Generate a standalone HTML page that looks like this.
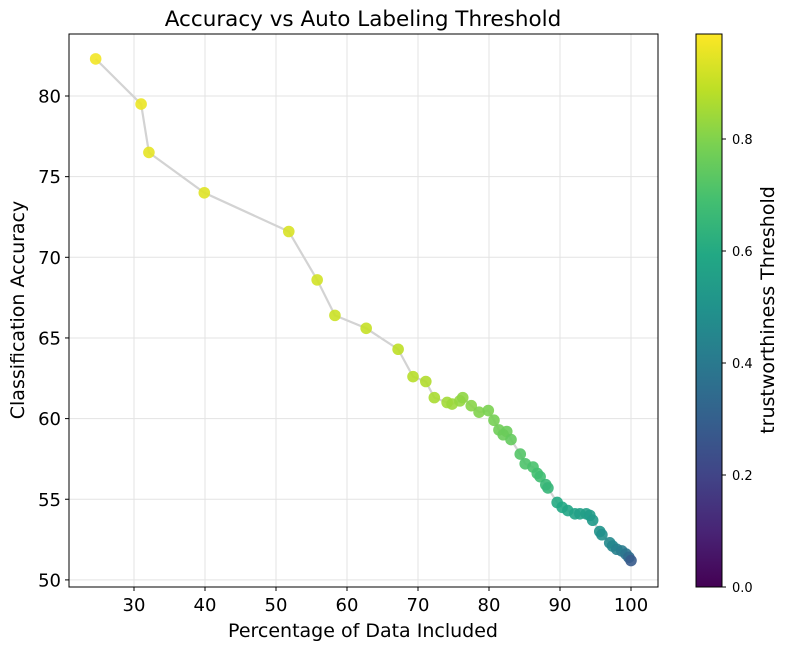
<!DOCTYPE html>
<html><head><meta charset="utf-8"><style>
body{margin:0;background:#fff;}
svg text{font-family:"DejaVu Sans","Liberation Sans",sans-serif;fill:#000;}
</style></head><body>
<svg id="chart" width="788" height="650" xmlns="http://www.w3.org/2000/svg">
<defs>
<linearGradient id="vir" x1="0" y1="1" x2="0" y2="0">
<stop offset="0" stop-color="#440154"/><stop offset="0.1" stop-color="#482475"/><stop offset="0.2" stop-color="#414487"/><stop offset="0.3" stop-color="#355f8d"/><stop offset="0.4" stop-color="#2a788e"/><stop offset="0.5" stop-color="#21918c"/><stop offset="0.6" stop-color="#22a884"/><stop offset="0.7" stop-color="#44bf70"/><stop offset="0.8" stop-color="#7ad151"/><stop offset="0.9" stop-color="#bddf26"/><stop offset="1" stop-color="#fde725"/>
</linearGradient>
</defs>
<rect width="788" height="650" fill="#fff"/>
<g id="grid"></g>
<g id="marks"></g>
<rect x="69" y="34" width="589" height="553" fill="none" stroke="#000" stroke-width="1"/>
<g id="axes"></g>
<text x="363" y="26" font-size="21.5" text-anchor="middle">Accuracy vs Auto Labeling Threshold</text>
<text x="363" y="637" font-size="19" text-anchor="middle">Percentage of Data Included</text>
<text transform="translate(24,310) rotate(-90)" font-size="19" text-anchor="middle">Classification Accuracy</text>
<rect x="696" y="34" width="26" height="553" fill="url(#vir)" stroke="#000" stroke-width="1"/>
<g id="cbar"></g>
<text transform="translate(774,310) rotate(-90)" font-size="19" text-anchor="middle">trustworthiness Threshold</text>
</svg>
<script>
const xVals=[24.6,31.0,32.1,39.9,51.8,55.8,58.3,62.7,67.2,69.3,71.1,72.3,74.1,74.8,75.9,76.3,77.5,78.6,79.9,80.7,81.4,82.0,82.5,83.1,84.4,85.1,86.2,86.8,87.2,88.0,88.3,89.6,90.3,91.1,92.1,92.8,93.7,94.2,94.6,95.6,95.9,97.0,97.4,98.0,98.7,99.3,99.7,100.0];
const yVals=[82.3,79.5,76.5,74.0,71.6,68.6,66.4,65.6,64.3,62.6,62.3,61.3,61.0,60.9,61.1,61.3,60.8,60.4,60.5,59.9,59.3,59.0,59.2,58.7,57.8,57.2,57.0,56.6,56.4,55.9,55.7,54.8,54.5,54.3,54.1,54.1,54.1,54.0,53.7,53.0,52.8,52.3,52.1,51.9,51.8,51.6,51.4,51.2];
const thresholds=[0.97,0.96,0.95,0.94,0.93,0.92,0.91,0.9,0.89,0.88,0.87,0.86,0.85,0.84,0.83,0.82,0.81,0.8,0.79,0.78,0.77,0.76,0.76,0.75,0.72,0.71,0.7,0.69,0.68,0.66,0.65,0.6,0.59,0.58,0.57,0.56,0.55,0.54,0.53,0.5,0.49,0.46,0.45,0.43,0.41,0.38,0.34,0.28];
const xTicks=[30,40,50,60,70,80,90,100];
const yTicks=[50,55,60,65,70,75,80];
const cTicks=[0.0,0.2,0.4,0.6,0.8];
const NS="http://www.w3.org/2000/svg";
const xs=v=>134+(v-30)*7.1;
const ys=v=>96+(80-v)*16.13;
const cs=v=>587-v*560;
const VIR=["#440154","#482475","#414487","#355f8d","#2a788e","#21918c","#22a884","#44bf70","#7ad151","#bddf26","#fde725"];
function hex(h){return [1,3,5].map(i=>parseInt(h.substr(i,2),16));}
function vir(t){t=Math.max(0,Math.min(1,t/0.987));const f=t*10,i=Math.min(9,Math.floor(f)),r=f-i;const a=hex(VIR[i]),b=hex(VIR[i+1]);return "rgb("+a.map((c,k)=>Math.round(c+(b[k]-c)*r)).join(",")+")";}
function el(tag,attrs,parent){const e=document.createElementNS(NS,tag);for(const k in attrs)e.setAttribute(k,attrs[k]);parent.appendChild(e);return e;}
const grid=document.getElementById('grid'),axes=document.getElementById('axes'),marks=document.getElementById('marks'),cbar=document.getElementById('cbar');
xTicks.forEach(t=>{const x=xs(t);
 const g=el('line',{x1:x,x2:x,y1:34,y2:587,stroke:'#e3e3e3','stroke-width':1},grid);
 
 
 const tk=el('line',{x1:x,x2:x,y1:587,y2:591,stroke:'#000'},axes);
 
 
 const lb=el('text',{x:x,y:611,'font-size':18,'text-anchor':'middle'},axes);lb.textContent=t;
 
 
});
yTicks.forEach(t=>{const y=ys(t);
 const g=el('line',{x1:69,x2:658,y1:y,y2:y,stroke:'#e3e3e3','stroke-width':1},grid);
 
 
 const tk=el('line',{x1:65,x2:69,y1:y,y2:y,stroke:'#000'},axes);
 
 
 const lb=el('text',{x:61,y:y+6.5,'font-size':18,'text-anchor':'end'},axes);lb.textContent=t;
 
 
});
cTicks.forEach(t=>{const y=cs(t);
 const tk=el('line',{x1:722,x2:726,y1:y,y2:y,stroke:'#000'},cbar);
 
 
 const lb=el('text',{x:732,y:y+5,'font-size':13},cbar);lb.textContent=t.toFixed(1);
 
 
});
const line=el('polyline',{points:xVals.map((v,i)=>xs(v)+','+ys(yVals[i])).join(' '),fill:'none',stroke:'#d3d3d3','stroke-width':2.2},marks);


xVals.forEach((v,i)=>{
 const c=el('circle',{cx:xs(v),cy:ys(yVals[i]),r:5.8,fill:vir(thresholds[i]),'fill-opacity':0.9},marks);
 
 
});
</script>
</body></html>
